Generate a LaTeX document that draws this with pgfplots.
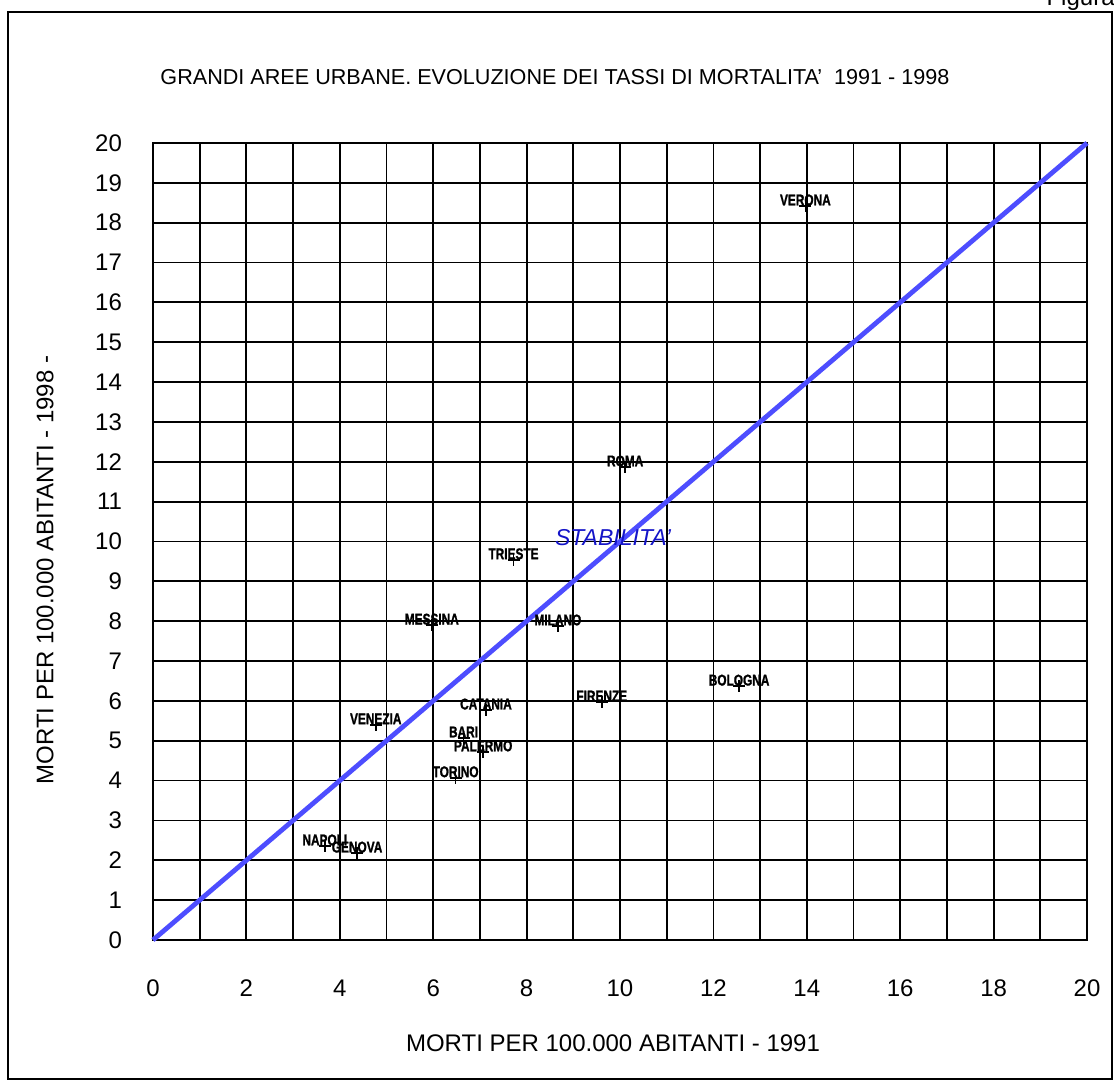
\documentclass[border=0pt]{standalone}
\usepackage{fontspec}
\setmainfont{Liberation Sans}
\newfontfamily\lblfont[FakeStretch=0.76, FakeBold=1.2]{Liberation Sans Bold}
\usepackage{pgfplots}
\usepackage{pgfplotstable}
\pgfplotsset{compat=1.18}

\definecolor{diagblue}{RGB}{77,77,255}
\definecolor{stabblue}{RGB}{20,20,200}

\pgfplotstableread{
label   x      y
NAPOLI  3.68   2.36
GENOVA  4.37   2.18
VENEZIA 4.77   5.40
CATANIA 7.13   5.77
BARI    6.65   5.07
PALERMO 7.07   4.72
TORINO  6.48   4.07
TRIESTE 7.72   9.54
MESSINA 5.97   7.90
MILANO  8.67   7.88
FIRENZE 9.61   5.97
BOLOGNA 12.55  6.37
ROMA    10.11  11.87
VERONA  13.97  18.42
}\cities

\begin{document}
\begin{tikzpicture}
\path[use as bounding box, clip] (-76.5pt,-70.5pt) rectangle (480.5pt,470pt);
\begin{axis}[
    at={(0,0)}, anchor=south west,
    scale only axis, width=467pt, height=398.5pt,
    xmin=0, xmax=20, ymin=0, ymax=20,
    xtick={0,2,...,20}, minor xtick={1,3,...,19},
    ytick={0,1,...,20},
    grid=both,
    major grid style={black, line width=0.9pt},
    minor grid style={black, line width=0.9pt},
    axis line style={line width=1pt},
    major tick length=0pt, minor tick length=0pt,
    tick label style={font=\fontsize{12}{14}\selectfont},
    /pgf/number format/assume math mode=true,
    xticklabel style={yshift=-16.5pt},
    yticklabel style={xshift=-12pt},
    clip=false,
]
\addplot[diagblue, line width=2.4pt] coordinates {(0,0) (20,20)};
\addplot[only marks, mark=+, mark size=3pt, mark options={black, line width=0.8pt},
    point meta=explicit symbolic,
    nodes near coords,
    every node near coord/.style={anchor=center, yshift=3pt, inner sep=0pt,
        font=\lblfont\fontsize{7.8}{9}\selectfont, text=black}]
    table[x=x, y=y, meta=label] {\cities};
\node[font=\itshape\fontsize{11.5}{13}\selectfont, text=stabblue] at (axis cs:9.85,10.11) {STABILITA'};
\end{axis}
\draw[line width=0.8pt] (-72.5pt,-69.5pt) rectangle (479.5pt,464pt);
\node[anchor=base east, inner sep=0pt, font=\fontsize{12}{14}\selectfont] at (481pt,467pt) {Figura};
\node[font=\fontsize{10.8}{13}\selectfont] at (201pt,431.5pt) {GRANDI AREE URBANE. EVOLUZIONE DEI TASSI DI MORTALITA'\ \ 1991 - 1998};
\node[font=\fontsize{12}{14}\selectfont] at (230pt,-51.5pt) {MORTI PER 100.000 ABITANTI - 1991};
\node[font=\fontsize{12}{14}\selectfont, rotate=90] at (-54pt,185pt) {MORTI PER 100.000 ABITANTI - 1998 -};
\end{tikzpicture}
\end{document}
